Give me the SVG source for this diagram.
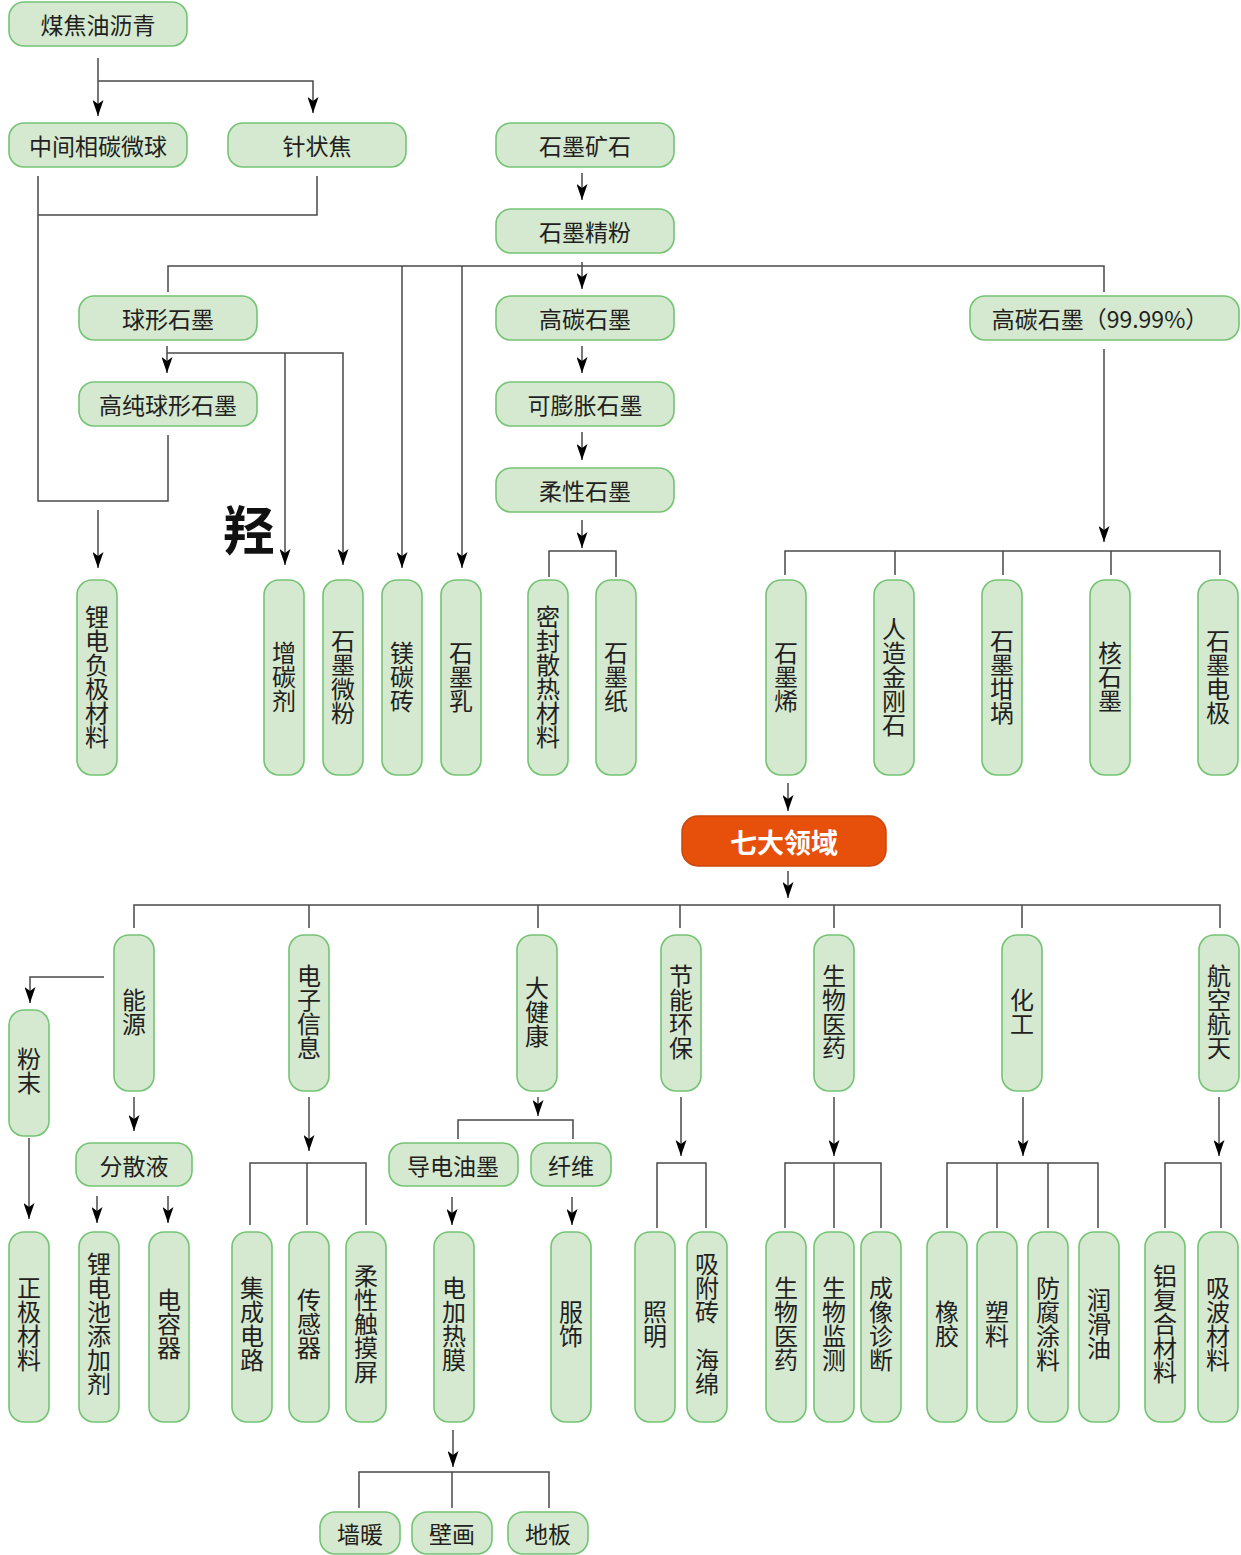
<svg xmlns="http://www.w3.org/2000/svg" width="1241" height="1555" viewBox="0 0 1241 1555">
<style>
.n{fill:#d5e8d0;stroke:#74c474;stroke-width:1.6}
.o{fill:#e6500a;stroke:#c9470c;stroke-width:1.5}
.t{font-family:"Noto Sans CJK SC","Noto Sans CJK JP",sans-serif;font-size:23px;fill:#231f20;text-anchor:middle;dominant-baseline:central}
.v{writing-mode:vertical-rl;text-orientation:upright;font-size:24px}
.w{fill:#ffffff;font-size:27px;font-weight:bold}
.c{stroke:#4a4a4a;stroke-width:1.5;fill:none}
.a{marker-end:url(#arr)}
</style>
<defs>
<marker id="arr" markerUnits="userSpaceOnUse" markerWidth="17" markerHeight="11" refX="16" refY="5.5" orient="auto">
<path d="M0,0 L16,5.5 L0,11 L4,5.5 z" fill="#000"/>
</marker>
</defs>
<rect width="1241" height="1555" fill="#ffffff"/>

<g id="connectors">
<path class="c a" d="M98,58 V116"/>
<path class="c a" d="M98,81 H313 V113"/>
<path class="c" d="M38,176 V501 H168 V435"/>
<path class="c" d="M38,215 H317 V176"/>
<path class="c a" d="M98,510 V568"/>
<path class="c a" d="M582,173 V200"/>
<path class="c" d="M168,292 V266 H1104 V292"/>
<path class="c a" d="M582,262 V289"/>
<path class="c a" d="M402,266 V568"/>
<path class="c a" d="M462,266 V568"/>
<path class="c a" d="M167,346 V373"/>
<path class="c a" d="M167,353 H343 V565"/>
<path class="c a" d="M285,353 V565"/>
<path class="c a" d="M582,346 V373"/>
<path class="c a" d="M582,432 V460"/>
<path class="c a" d="M582,520 V548"/>
<path class="c" d="M549,577 V551 H616 V577"/>
<path class="c a" d="M1104,349 V542"/>
<path class="c" d="M785,575 V551 H1220 V575"/>
<path class="c" d="M895,551 V575 M1003,551 V575 M1111,551 V575"/>
<path class="c a" d="M788,783 V811"/>
<path class="c a" d="M788,871 V898"/>
<path class="c" d="M134,928 V905 H1220 V928"/>
<path class="c" d="M309,905 V928 M538,905 V928 M680,905 V928 M834,905 V928 M1022,905 V928"/>
<path class="c a" d="M104,977 H30 V1003"/>
<path class="c a" d="M29,1138 V1219"/>
<path class="c a" d="M134,1097 V1131"/>
<path class="c a" d="M97,1196 V1223"/>
<path class="c a" d="M168,1196 V1223"/>
<path class="c a" d="M309,1097 V1151"/>
<path class="c" d="M250,1225 V1163 H366 V1225 M307,1163 V1225"/>
<path class="c a" d="M538,1097 V1116"/>
<path class="c" d="M458,1139 V1120 H573 V1139"/>
<path class="c a" d="M452,1197 V1225"/>
<path class="c a" d="M572,1197 V1225"/>
<path class="c a" d="M681,1097 V1156"/>
<path class="c" d="M657,1228 V1163 H706 V1228"/>
<path class="c a" d="M834,1097 V1156"/>
<path class="c" d="M785,1228 V1163 H881 V1228 M834,1163 V1228"/>
<path class="c a" d="M1023,1097 V1156"/>
<path class="c" d="M947,1228 V1163 H1098 V1228 M997,1163 V1228 M1048,1163 V1228"/>
<path class="c a" d="M1219,1097 V1156"/>
<path class="c" d="M1165,1228 V1163 H1221 V1228"/>
<path class="c a" d="M453,1430 V1467"/>
<path class="c" d="M359,1508 V1472 H549 V1508 M452,1472 V1508"/>
</g>

<text x="249" y="527" style="font-family:'Noto Sans CJK SC',sans-serif;font-size:52px;font-weight:bold;fill:#111;text-anchor:middle;dominant-baseline:central">羟</text>

<g id="n1"><rect class="n" x="9" y="2" width="178" height="44" rx="15"/><text class="t" x="98" y="24">煤焦油沥青</text></g>
<g id="n2"><rect class="n" x="9" y="123" width="178" height="44" rx="15"/><text class="t" x="98" y="145">中间相碳微球</text></g>
<g id="n3"><rect class="n" x="228" y="123" width="178" height="44" rx="15"/><text class="t" x="317" y="145">针状焦</text></g>
<g id="n4"><rect class="n" x="496" y="123" width="178" height="44" rx="15"/><text class="t" x="585" y="145">石墨矿石</text></g>
<g id="n5"><rect class="n" x="496" y="209" width="178" height="44" rx="15"/><text class="t" x="585" y="231">石墨精粉</text></g>
<g id="n6"><rect class="n" x="79" y="296" width="178" height="44" rx="15"/><text class="t" x="168" y="318">球形石墨</text></g>
<g id="n7"><rect class="n" x="496" y="296" width="178" height="44" rx="15"/><text class="t" x="585" y="318">高碳石墨</text></g>
<g id="n8"><rect class="n" x="970" y="296" width="269" height="44" rx="15"/><text class="t" x="1100" y="318">高碳石墨（99.99%）</text></g>
<g id="n9"><rect class="n" x="79" y="382" width="178" height="44" rx="15"/><text class="t" x="168" y="404">高纯球形石墨</text></g>
<g id="n10"><rect class="n" x="496" y="382" width="178" height="44" rx="15"/><text class="t" x="585" y="404">可膨胀石墨</text></g>
<g id="n11"><rect class="n" x="496" y="468" width="178" height="44" rx="15"/><text class="t" x="585" y="490">柔性石墨</text></g>

<g id="r1a"><rect class="n" x="77" y="580" width="40" height="195" rx="15"/><text class="t v" x="97" y="677">锂电负极材料</text></g>
<g id="r1b"><rect class="n" x="264" y="580" width="40" height="195" rx="15"/><text class="t v" x="284" y="677">增碳剂</text></g>
<g id="r1c"><rect class="n" x="323" y="580" width="40" height="195" rx="15"/><text class="t v" x="343" y="677">石墨微粉</text></g>
<g id="r1d"><rect class="n" x="382" y="580" width="40" height="195" rx="15"/><text class="t v" x="402" y="677">镁碳砖</text></g>
<g id="r1e"><rect class="n" x="441" y="580" width="40" height="195" rx="15"/><text class="t v" x="461" y="677">石墨乳</text></g>
<g id="r1f"><rect class="n" x="528" y="580" width="40" height="195" rx="15"/><text class="t v" x="548" y="677">密封散热材料</text></g>
<g id="r1g"><rect class="n" x="596" y="580" width="40" height="195" rx="15"/><text class="t v" x="616" y="677">石墨纸</text></g>
<g id="r1h"><rect class="n" x="766" y="580" width="40" height="195" rx="15"/><text class="t v" x="786" y="677">石墨烯</text></g>
<g id="r1i"><rect class="n" x="874" y="580" width="40" height="195" rx="15"/><text class="t v" x="894" y="677">人造金刚石</text></g>
<g id="r1j"><rect class="n" x="982" y="580" width="40" height="195" rx="15"/><text class="t v" x="1002" y="677">石墨坩埚</text></g>
<g id="r1k"><rect class="n" x="1090" y="580" width="40" height="195" rx="15"/><text class="t v" x="1110" y="677">核石墨</text></g>
<g id="r1l"><rect class="n" x="1198" y="580" width="40" height="195" rx="15"/><text class="t v" x="1218" y="677">石墨电极</text></g>

<g id="seven"><rect class="o" x="682" y="816" width="204" height="50" rx="16"/><text class="t w" x="784" y="841">七大领域</text></g>

<g id="d1"><rect class="n" x="114" y="935" width="40" height="156" rx="15"/><text class="t v" x="134" y="1012">能源</text></g>
<g id="d2"><rect class="n" x="289" y="935" width="40" height="156" rx="15"/><text class="t v" x="309" y="1012">电子信息</text></g>
<g id="d3"><rect class="n" x="517" y="935" width="40" height="156" rx="15"/><text class="t v" x="537" y="1012">大健康</text></g>
<g id="d4"><rect class="n" x="661" y="935" width="40" height="156" rx="15"/><text class="t v" x="681" y="1012">节能环保</text></g>
<g id="d5"><rect class="n" x="814" y="935" width="40" height="156" rx="15"/><text class="t v" x="834" y="1012">生物医药</text></g>
<g id="d6"><rect class="n" x="1002" y="935" width="40" height="156" rx="15"/><text class="t v" x="1022" y="1012">化工</text></g>
<g id="d7"><rect class="n" x="1199" y="935" width="40" height="156" rx="15"/><text class="t v" x="1219" y="1012">航空航天</text></g>

<g id="powder"><rect class="n" x="9" y="1010" width="40" height="126" rx="15"/><text class="t v" x="29" y="1071">粉末</text></g>
<g id="disp"><rect class="n" x="76" y="1143" width="116" height="43" rx="15"/><text class="t" x="134" y="1165">分散液</text></g>
<g id="ink"><rect class="n" x="389" y="1143" width="129" height="43" rx="15"/><text class="t" x="453" y="1165">导电油墨</text></g>
<g id="fiber"><rect class="n" x="531" y="1143" width="80" height="43" rx="15"/><text class="t" x="571" y="1165">纤维</text></g>

<g id="r3a"><rect class="n" x="9" y="1232" width="40" height="190" rx="15"/><text class="t v" x="29" y="1324">正极材料</text></g>
<g id="r3b"><rect class="n" x="79" y="1232" width="40" height="190" rx="15"/><text class="t v" x="99" y="1324">锂电池添加剂</text></g>
<g id="r3c"><rect class="n" x="149" y="1232" width="40" height="190" rx="15"/><text class="t v" x="169" y="1324">电容器</text></g>
<g id="r3d"><rect class="n" x="232" y="1232" width="40" height="190" rx="15"/><text class="t v" x="252" y="1324">集成电路</text></g>
<g id="r3e"><rect class="n" x="289" y="1232" width="40" height="190" rx="15"/><text class="t v" x="309" y="1324">传感器</text></g>
<g id="r3f"><rect class="n" x="346" y="1232" width="40" height="190" rx="15"/><text class="t v" x="366" y="1324">柔性触摸屏</text></g>
<g id="r3g"><rect class="n" x="434" y="1232" width="40" height="190" rx="15"/><text class="t v" x="454" y="1324">电加热膜</text></g>
<g id="r3h"><rect class="n" x="551" y="1232" width="40" height="190" rx="15"/><text class="t v" x="571" y="1324">服饰</text></g>
<g id="r3i"><rect class="n" x="635" y="1232" width="40" height="190" rx="15"/><text class="t v" x="655" y="1324">照明</text></g>
<g id="r3j"><rect class="n" x="687" y="1232" width="40" height="190" rx="15"/><text class="t v" x="707" y="1324">吸附砖 海绵</text></g>
<g id="r3k"><rect class="n" x="766" y="1232" width="40" height="190" rx="15"/><text class="t v" x="786" y="1324">生物医药</text></g>
<g id="r3l"><rect class="n" x="814" y="1232" width="40" height="190" rx="15"/><text class="t v" x="834" y="1324">生物监测</text></g>
<g id="r3m"><rect class="n" x="861" y="1232" width="40" height="190" rx="15"/><text class="t v" x="881" y="1324">成像诊断</text></g>
<g id="r3n"><rect class="n" x="927" y="1232" width="40" height="190" rx="15"/><text class="t v" x="947" y="1324">橡胶</text></g>
<g id="r3o"><rect class="n" x="977" y="1232" width="40" height="190" rx="15"/><text class="t v" x="997" y="1324">塑料</text></g>
<g id="r3p"><rect class="n" x="1028" y="1232" width="40" height="190" rx="15"/><text class="t v" x="1048" y="1324">防腐涂料</text></g>
<g id="r3q"><rect class="n" x="1079" y="1232" width="40" height="190" rx="15"/><text class="t v" x="1099" y="1324">润滑油</text></g>
<g id="r3r"><rect class="n" x="1145" y="1232" width="40" height="190" rx="15"/><text class="t v" x="1165" y="1324">铝复合材料</text></g>
<g id="r3s"><rect class="n" x="1198" y="1232" width="40" height="190" rx="15"/><text class="t v" x="1218" y="1324">吸波材料</text></g>

<g id="b1"><rect class="n" x="320" y="1512" width="80" height="42" rx="15"/><text class="t" x="360" y="1533">墙暖</text></g>
<g id="b2"><rect class="n" x="412" y="1512" width="80" height="42" rx="15"/><text class="t" x="452" y="1533">壁画</text></g>
<g id="b3"><rect class="n" x="508" y="1512" width="80" height="42" rx="15"/><text class="t" x="548" y="1533">地板</text></g>
</svg>
